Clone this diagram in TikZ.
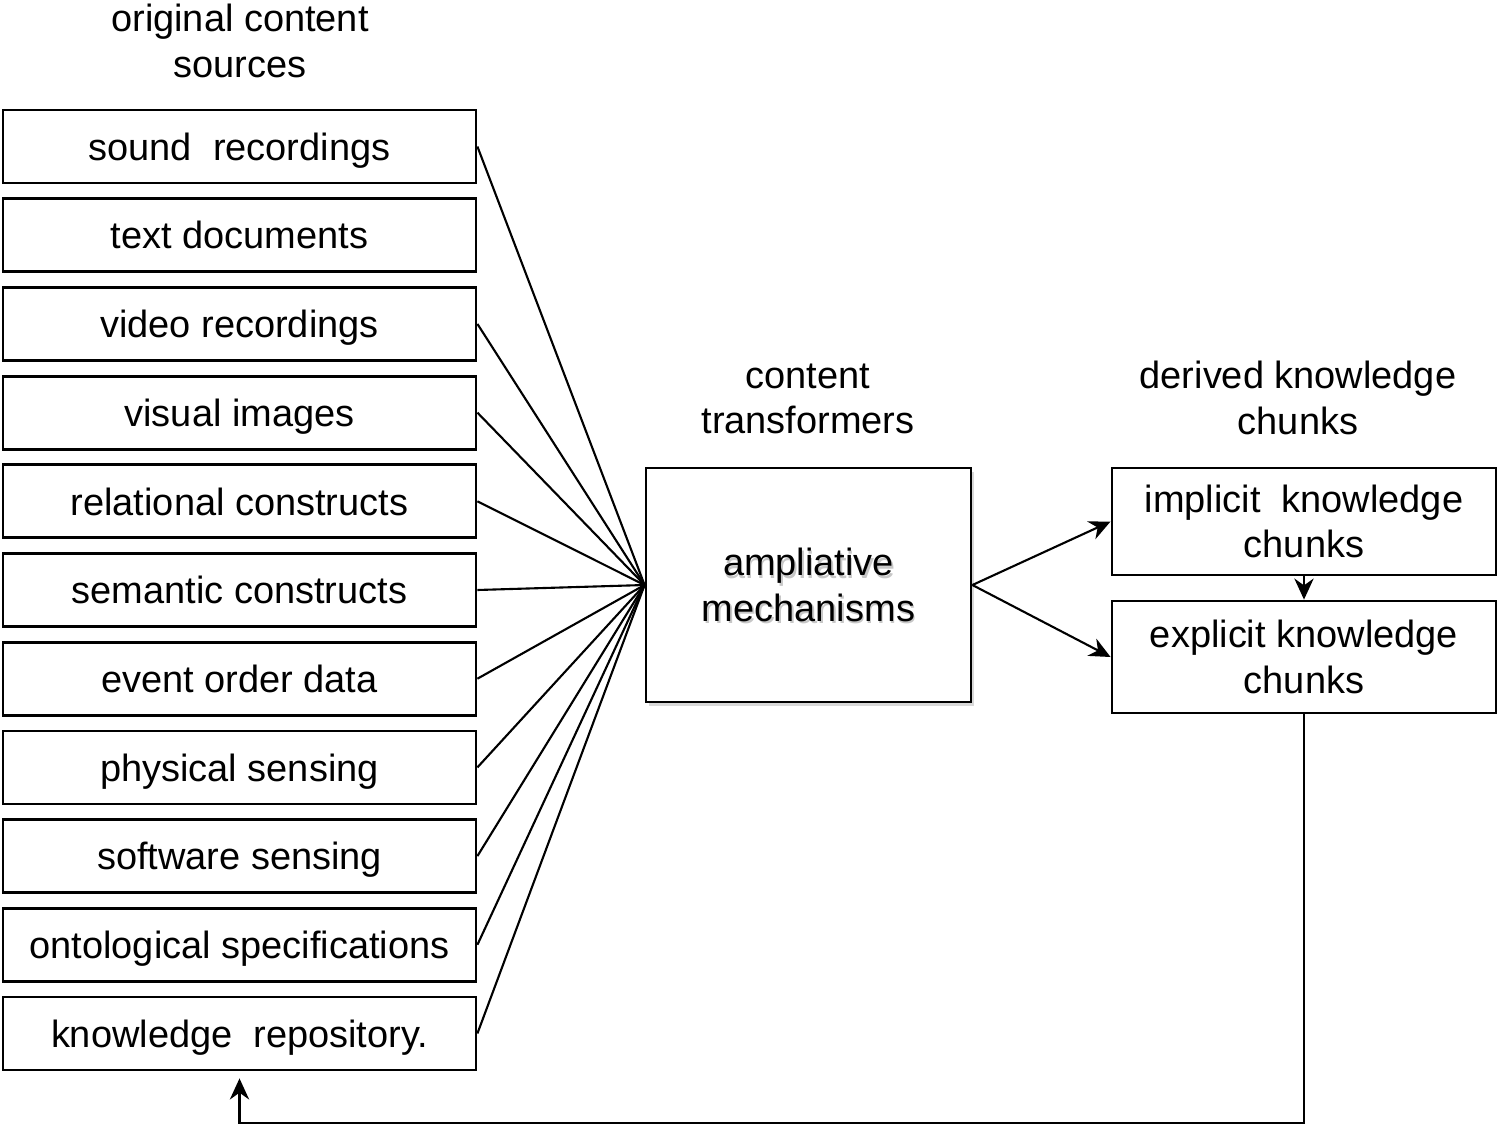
\documentclass[tikz,border=0pt]{standalone}
\usepackage{fontspec}
\setmainfont{Liberation Sans}
\usetikzlibrary{arrows.meta,shapes,shadows,calc}

\begin{document}
\begin{tikzpicture}[>={Stealth[length=6pt,width=5.5pt]},line width=0.6pt,node distance=0.887cm,
    font=\fontsize{10.8}{13}\selectfont]
        \tikzstyle{every node}=[align=center]
        \tikzstyle{source}=[draw, line width=0.8pt, minimum width=4.73cm, minimum height=0.73cm, inner sep=0pt,
                            text height=9pt, text depth=1.2pt]
        \tikzstyle{chunk}=[draw, line width=0.8pt, minimum width=3.84cm, inner sep=0pt]
        \useasboundingbox (0,0) rectangle (15,-11.28);

        % headings
        \node (hsrc)  at (2.40,-0.41)  {original content\\sources};
        \node (htrf)  at (8.08,-3.99)  {content\\transformers};
        \node (hchk)  at (12.98,-3.98) {derived knowledge\\chunks};

        % original content sources
        \node[source] (sound)                   at (2.395,-1.465) {sound\ \ recordings};
        \node[source] (text)    [below of=sound]    {text documents};
        \node[source] (video)   [below of=text]     {video recordings};
        \node[source] (visual)  [below of=video]    {visual images};
        \node[source] (rel)     [below of=visual]   {relational constructs};
        \node[source] (sem)     [below of=rel]      {semantic constructs};
        \node[source] (event)   [below of=sem]      {event order data};
        \node[source] (phys)    [below of=event]    {physical sensing};
        \node[source] (soft)    [below of=phys]     {software sensing};
        \node[source] (onto)    [below of=soft]     {ontological specifications};
        \node[source] (know)    [below of=onto]     {knowledge\ \ repository.};

        % content transformer (text with a soft shadow)
        \node[draw, line width=0.8pt, fill=white, minimum width=3.25cm, minimum height=2.34cm,
              drop shadow={shadow xshift=0.03cm, shadow yshift=-0.04cm, fill=black!30},
              path picture={\node[text=black!22] at ($(path picture bounding box.center)+(0.015,-0.025)$)
                                 {ampliative\\mechanisms};}]
              (amp) at (8.085,-5.85) {ampliative\\mechanisms};

        % derived knowledge chunks
        \node[chunk, minimum height=1.07cm] (impl) at (13.04,-5.215) {implicit\ \ knowledge\\chunks};
        \node[chunk, minimum height=1.12cm] (expl) at (13.04,-6.57)  {explicit knowledge\\chunks};
        \coordinate (fb) at (2.395,-11.23);

        \foreach \s in {sound,video,visual,rel,sem,event,phys,soft,onto,know}
            \draw (\s.east) -- (amp.west);

        \draw[->] (amp.east) -- (impl.west);
        \draw[->] (amp.east) -- (expl.west);
        \draw[->] (impl.south) -- (expl.north);
        \draw[->, shorten >=2pt] (expl.south) |- (fb) -- (know.south);
\end{tikzpicture}
\end{document}
